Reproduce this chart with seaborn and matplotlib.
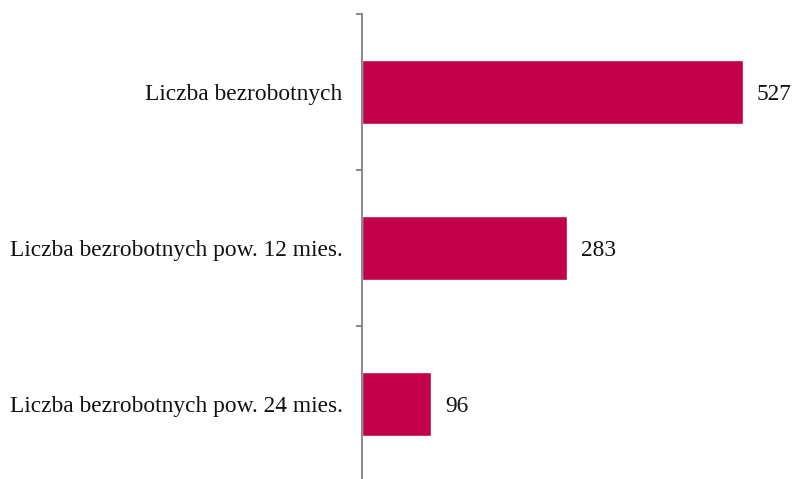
import matplotlib
matplotlib.use('Agg')
import matplotlib.pyplot as plt
import seaborn as sns
import pandas as pd

# data
categories = ['Liczba bezrobotnych',
              'Liczba bezrobotnych pow. 12 mies.',
              'Liczba bezrobotnych pow. 24 mies.']
values = [527, 283, 96]

bar_color = '#C2004A'
axis_color = '#8C8C8C'

sns.set_style('white')
plt.rcParams['font.family'] = ['Liberation Serif', 'DejaVu Serif']

df = pd.DataFrame({'kategoria': categories, 'liczba': values})

fig = plt.figure(figsize=(7.93, 4.79), dpi=100)
ax = fig.add_axes([362 / 793, -3 / 479, 431 / 793, 468 / 479])

sns.barplot(data=df, x='liczba', y='kategoria', color=bar_color,
            width=0.41, saturation=1, ax=ax)

ax.set_xlim(0, 596)
ax.set_ylim(2.5, -0.5)
ax.set_xlabel('')
ax.set_ylabel('')
ax.set_xticks([])

# spines: only the left axis line
for side in ['top', 'right', 'bottom']:
    ax.spines[side].set_visible(False)
ax.spines['left'].set_color(axis_color)
ax.spines['left'].set_linewidth(1.5)

# tick marks between categories, labels at category centres
ax.set_yticks([-0.5, 0.5, 1.5, 2.5], minor=True)
ax.tick_params(axis='y', which='minor', length=4.5, width=1.5,
               color=axis_color, direction='out', left=True)
ax.tick_params(axis='y', which='major', length=0, pad=14,
               labelsize=16.8, labelcolor='#111111')
for lbl in ax.get_yticklabels():
    lbl.set_va('center_baseline')

for container in ax.containers:
    texts = ax.bar_label(container, labels=[str(v) for v in values], padding=10,
                         fontsize=16.8, color='#111111')
    for t in texts:
        t.set_va('center_baseline')

plt.savefig('out.png', dpi=100)
